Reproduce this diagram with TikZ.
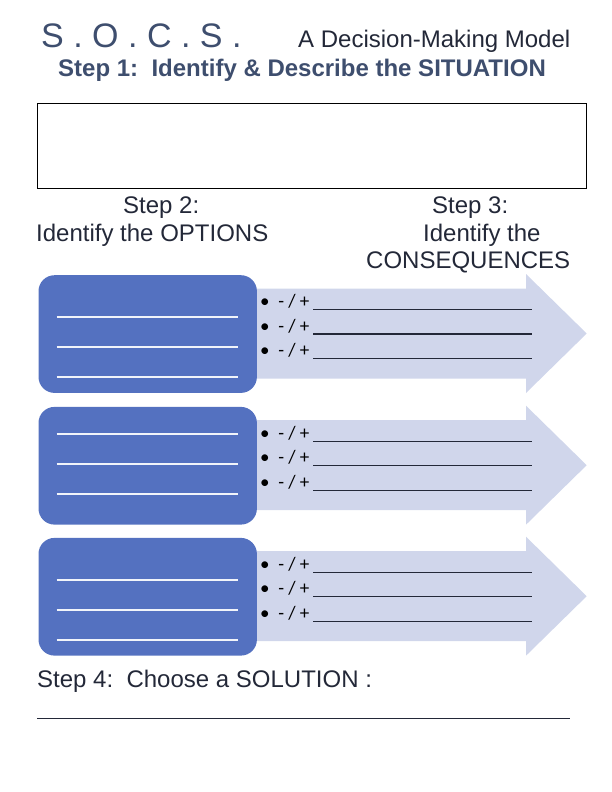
\documentclass[tikz,border=0pt]{standalone}
\usepackage{fontspec}
\setmainfont{Liberation Sans}
\newfontfamily\bulletfont{Carlito}
\definecolor{socsblue}{RGB}{62,78,110}
\definecolor{inkdark}{RGB}{35,40,56}
\definecolor{optblue}{RGB}{84,113,192}
\definecolor{conlav}{RGB}{208,214,235}
\begin{document}
\begin{tikzpicture}[
      x=1pt, y=-1pt,
      every node/.style={inner sep=0pt},
      head/.style={anchor=base west,text=inkdark,
        font=\fontsize{24}{28}\selectfont},
      optbox/.style={fill=optblue,rounded corners=16pt,anchor=north west,
        minimum width=218.4,minimum height=117.7},
      conarrow/.style={fill=conlav},
      wline/.style={white!92!optblue,line width=2pt},
      uline/.style={inkdark,line width=1.3pt},
      item/.style={anchor=base west,text=black,
        font=\bulletfont\fontsize{19}{19}\selectfont},
    ]
    \useasboundingbox (0,0) rectangle (612,792);
    \node[head,text=socsblue,font=\fontsize{34}{34}\selectfont] (socs) at (41,48) {S . O . C . S .};
    \node[head] (model) at (298,48) {A Decision-Making Model};
    \node[head,text=socsblue,font=\bfseries\fontsize{24}{24}\selectfont] (step1) at (58,77)
      {Step 1:\ \ Identify \& Describe the SITUATION};
    \node[draw,line width=1pt,anchor=north west,minimum width=549,minimum height=85.6] (situation) at (36.5,102.7) {};
    \node[head] (step2) at (123,213) {Step 2:};
    \node[head] (options) at (36,241) {Identify the OPTIONS};
    \node[head] (step3) at (432,213) {Step 3:};
    \node[head] (identify) at (423,241) {Identify the};
    \node[head] (conseq) at (366,268) {CONSEQUENCES};
    % one row per option: box, arrow, three consequences
    \foreach \rtop/\wof [count=\row] in {275/42,406.7/27,537.7/42}{
      \fill[conarrow] (250,\rtop+13.5) -- (526,\rtop+13.5) -- (526,\rtop-1) -- (586.7,\rtop+58.5)
        -- (526,\rtop+118) -- (526,\rtop+103.5) -- (250,\rtop+103.5) -- cycle;
      \node[optbox] (opt\row) at (38.3,\rtop) {};
      \foreach \k in {0,1,2}
        \draw[wline] (56.7,\rtop+\wof+30*\k) -- (238,\rtop+\wof+30*\k);
      \foreach \k in {0,1,2}{
        \node[item] (item\row\k) at (260,\rtop+32.5+24.5*\k) {•\ \ - / +};
        \draw[uline] (313,\rtop+34.5+24.5*\k) -- (531.7,\rtop+34.5+24.5*\k);
      }
    }
    \node[head] (step4) at (37,687.3) {Step 4:\ \ Choose a SOLUTION :};
    \coordinate (solend) at (570,718.3);
    \draw[uline,line width=1.5pt] (37,718.3) -- (solend);
\end{tikzpicture}
\end{document}
